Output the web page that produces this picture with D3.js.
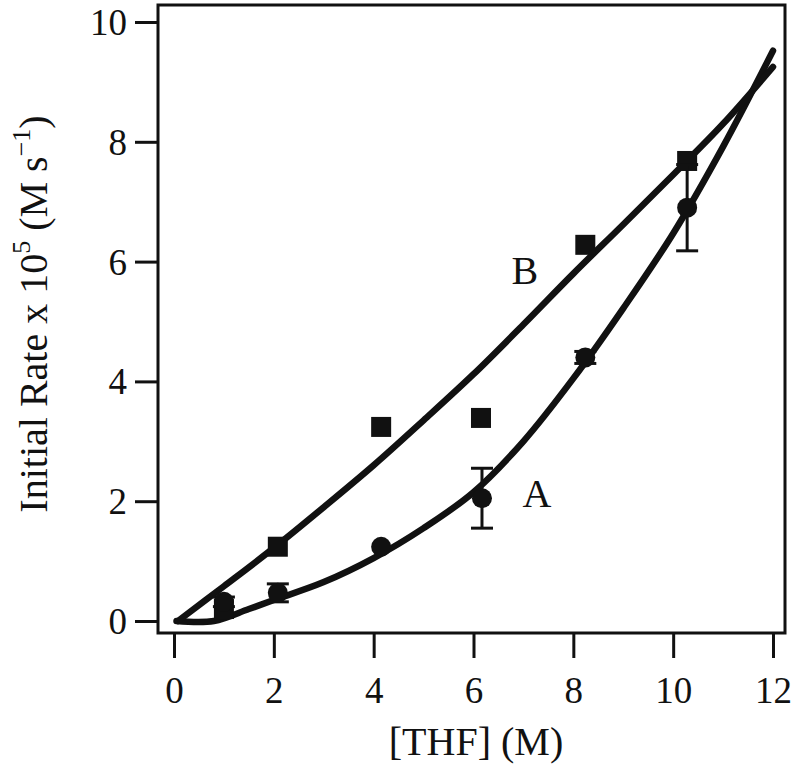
<!DOCTYPE html>
<html>
<head>
<meta charset="utf-8">
<script src="https://cdn.jsdelivr.net/npm/d3@7"></script>
<style>
  html, body { margin: 0; padding: 0; background: #fff; }
  svg { display: block; }
  text { font-family: "Liberation Serif", "Times New Roman", serif; fill: #111; }
</style>
</head>
<body>
<svg id="chart" width="792" height="764"></svg>
<script>
// ---- data ----
const xTicks = [0, 2, 4, 6, 8, 10, 12];
const yTicks = [0, 2, 4, 6, 8, 10];

// Series A (circles) measured points and error bars
const aX   = [1.0, 2.08, 4.15, 6.17, 8.24, 10.28];
const aY   = [0.32, 0.47, 1.24, 2.05, 4.40, 6.90];
const aErr = [0.08, 0.15, 0.0, 0.50, 0.10, 0.72];

// Series B (squares) measured points
const bX = [1.0, 2.08, 4.15, 6.15, 8.24, 10.28];
const bY = [0.20, 1.24, 3.24, 3.39, 6.28, 7.68];

// Fitted curve A
const fitAX = [0.05, 0.8, 1.5, 2.0, 3.0, 4.0, 5.0, 6.0, 7.0, 8.0, 9.0, 10.0, 11.0, 12.0];
const fitAY = [0.0, 0.0, 0.2, 0.35, 0.65, 1.05, 1.55, 2.15, 3.0, 4.05, 5.22, 6.47, 7.92, 9.52];

// Fitted curve B
const fitBX = [0.08, 1.0, 2.0, 3.0, 4.0, 5.0, 6.0, 7.0, 8.0, 9.0, 10.0, 11.0, 12.0];
const fitBY = [0.0, 0.58, 1.22, 1.9, 2.6, 3.35, 4.12, 4.95, 5.8, 6.62, 7.45, 8.3, 9.25];

const curveLabels = ["A", "B"];
const labelX = [7.27, 7.03];
const labelY = [1.9, 5.62];

const xTitle = "[THF] (M)";

// ---- drawing ----
const svg = d3.select("#chart");
const x = d3.scaleLinear().domain([0, 12]).range([174, 773]);
const y = d3.scaleLinear().domain([0, 10]).range([621, 22]);

const frameL = 158, frameR = 785, frameT = 5, frameB = 633;

// frame
svg.append("rect")
  .attr("x", frameL).attr("y", frameT)
  .attr("width", frameR - frameL).attr("height", frameB - frameT)
  .attr("fill", "none").attr("stroke", "#111").attr("stroke-width", 3);

// x axis
const xAxis = svg.append("g").attr("transform", `translate(0,${frameB})`)
  .call(d3.axisBottom(x).tickValues(xTicks).tickSize(25).tickSizeOuter(0).tickFormat(d3.format("d")));
xAxis.select(".domain").remove();
xAxis.selectAll(".tick line").attr("stroke", "#111").attr("stroke-width", 3);
xAxis.selectAll(".tick text")
  .attr("y", 70).attr("dy", null)
  .style("font-family", '"Liberation Serif", serif')
  .style("font-size", "37px").attr("fill", "#111");

// y axis
const yAxis = svg.append("g").attr("transform", `translate(${frameL},0)`)
  .call(d3.axisLeft(y).tickValues(yTicks).tickSize(23).tickSizeOuter(0).tickFormat(d3.format("d")));
yAxis.select(".domain").remove();
yAxis.selectAll(".tick line").attr("stroke", "#111").attr("stroke-width", 3);
yAxis.selectAll(".tick text")
  .attr("x", -31).attr("dy", "0.34em")
  .style("font-family", '"Liberation Serif", serif')
  .style("font-size", "37px").attr("fill", "#111");

// axis titles
svg.append("text")
  .attr("x", 476).attr("y", 755)
  .attr("text-anchor", "middle")
  .style("font-size", "40px")
  .text(xTitle);

const yt = svg.append("text")
  .attr("transform", "translate(47,314) rotate(-90)")
  .attr("text-anchor", "middle")
  .style("font-size", "40px");
yt.append("tspan").text("Initial Rate x 10");
yt.append("tspan").attr("dy", -17).style("font-size", "26px").text("5");
yt.append("tspan").attr("dy", 17).text(" (M s");
yt.append("tspan").attr("dy", -17).style("font-size", "26px").text("\u22121");
yt.append("tspan").attr("dy", 17).text(")");

// fitted curves
const line = d3.line().x(d => x(d[0])).y(d => y(d[1])).curve(d3.curveCatmullRom.alpha(0.5));
const fitA = fitAX.map((v, i) => [v, fitAY[i]]);
const fitB = fitBX.map((v, i) => [v, fitBY[i]]);
[fitA, fitB].forEach(pts => {
  svg.append("path").datum(pts)
    .attr("d", line)
    .attr("fill", "none").attr("stroke", "#111")
    .attr("stroke-width", 6.5).attr("stroke-linejoin", "round").attr("stroke-linecap", "round");
});

// squares (B)
const sq = 20;
svg.append("g").selectAll("rect").data(bX.map((v, i) => [v, bY[i]])).join("rect")
  .attr("x", d => x(d[0]) - sq / 2).attr("y", d => y(d[1]) - sq / 2)
  .attr("width", sq).attr("height", sq).attr("fill", "#111");

// error bars (A)
const aPts = aX.map((v, i) => ({ x: v, y: aY[i], e: aErr[i] }));
const eb = svg.append("g").attr("stroke", "#111").attr("stroke-width", 3);
aPts.filter(d => d.e > 0).forEach(d => {
  eb.append("line").attr("x1", x(d.x)).attr("x2", x(d.x)).attr("y1", y(d.y - d.e)).attr("y2", y(d.y + d.e));
  [d.y - d.e, d.y + d.e].forEach(v => {
    eb.append("line").attr("x1", x(d.x) - 11).attr("x2", x(d.x) + 11).attr("y1", y(v)).attr("y2", y(v));
  });
});

// circles (A)
svg.append("g").selectAll("circle").data(aPts).join("circle")
  .attr("cx", d => x(d.x)).attr("cy", d => y(d.y)).attr("r", 10).attr("fill", "#111");

// curve labels
svg.append("g").selectAll("text").data(curveLabels).join("text")
  .attr("x", (d, i) => x(labelX[i])).attr("y", (d, i) => y(labelY[i]))
  .attr("text-anchor", "middle")
  .style("font-size", "40px")
  .text(d => d);
</script>
</body>
</html>
